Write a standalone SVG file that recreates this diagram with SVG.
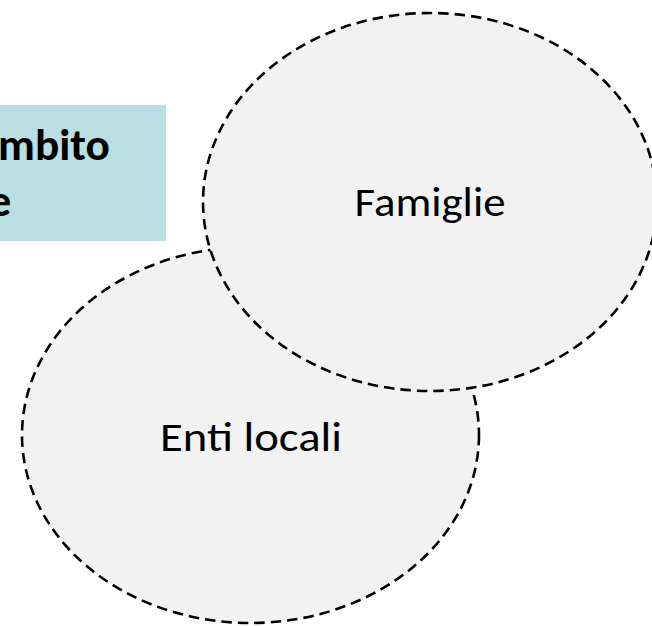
<svg xmlns="http://www.w3.org/2000/svg" width="652" height="626" viewBox="0 0 652 626">
  <style>
    .bubble { fill: #F2F2F2; stroke: #000000; stroke-width: 2.6; stroke-dasharray: 10.5 6; }
    .label { font-family: Calibri, Carlito, Lato, "Liberation Sans", sans-serif; font-size: 41px; fill: #000000; text-anchor: middle; }
    .title { font-family: Calibri, Carlito, Lato, "Liberation Sans", sans-serif; font-size: 44px; font-weight: bold; fill: #000000; }
  </style>
  <rect width="652" height="626" fill="#FFFFFF"/>
  <g id="title-box">
    <rect x="-2" y="105" width="168" height="136" fill="#B9DFE3"/>
    <text class="title" x="-2" y="160" textLength="112" lengthAdjust="spacingAndGlyphs">mbito</text>
    <text class="title" x="-11" y="216">e</text>
  </g>
  <g id="connectors"></g>
  <g id="enti-locali">
    <ellipse class="bubble" cx="250.5" cy="435" rx="228.5" ry="188"/>
    <text class="label" x="251" y="451" textLength="182" lengthAdjust="spacingAndGlyphs">Enti locali</text>
  </g>
  <g id="famiglie">
    <ellipse class="bubble" cx="430" cy="202" rx="227" ry="189"/>
    <text class="label" x="430" y="216" textLength="151" lengthAdjust="spacingAndGlyphs">Famiglie</text>
  </g>
</svg>
